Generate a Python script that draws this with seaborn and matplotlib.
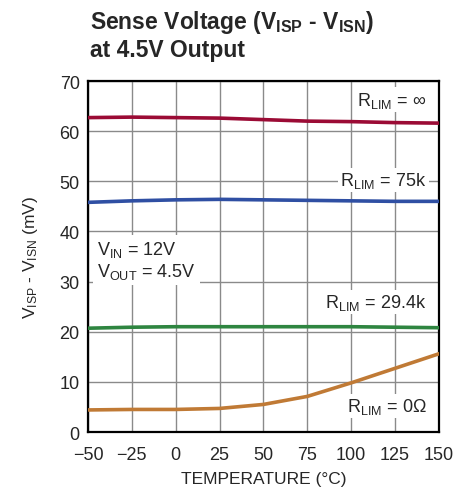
import matplotlib
matplotlib.use("Agg")
import matplotlib.pyplot as plt
import seaborn as sns
import pandas as pd

# data
temperature = [-50, -25, 0, 25, 50, 75, 100, 125, 150]
v_rlim_inf = [62.7, 62.8, 62.7, 62.6, 62.3, 62.0, 61.9, 61.7, 61.6]
v_rlim_75k = [45.8, 46.1, 46.3, 46.4, 46.3, 46.2, 46.1, 46.0, 46.0]
v_rlim_29k = [20.7, 20.9, 21.0, 21.0, 21.0, 21.0, 21.0, 20.9, 20.8]
v_rlim_0 = [4.4, 4.5, 4.5, 4.7, 5.5, 7.1, 9.8, 12.7, 15.6]

series = {
    "inf": (v_rlim_inf, "#9b0b35"),
    "75k": (v_rlim_75k, "#2f4fa3"),
    "29.4k": (v_rlim_29k, "#2e8540"),
    "0": (v_rlim_0, "#c07a35"),
}

sns.set_style("white")
plt.rcParams["font.family"] = ["Liberation Sans", "DejaVu Sans"]
plt.rcParams["mathtext.fontset"] = "custom"
plt.rcParams["mathtext.rm"] = "Liberation Sans"

fig = plt.figure(figsize=(4.71, 4.89), dpi=100)
ax = fig.add_axes([0.1868, 0.1145, 0.745, 0.7178])

for name, (vals, col) in series.items():
    df = pd.DataFrame({"t": temperature, "v": vals})
    sns.lineplot(data=df, x="t", y="v", color=col, linewidth=2.6, ax=ax, zorder=3)

ax.set_xlim(-50, 150)
ax.set_ylim(0, 70)
ax.set_xticks(range(-50, 151, 25))
ax.set_yticks(range(0, 71, 10))
ax.set_xticklabels(["\u221250", "\u221225", "0", "25", "50", "75", "100", "125", "150"])
ax.grid(True, color="#8a8a8a", linewidth=1.0)
ax.set_axisbelow(True)
for s in ax.spines.values():
    s.set_color("black")
    s.set_linewidth(1.6)
ax.tick_params(axis="x", labelsize=13, length=0, pad=10)
ax.tick_params(axis="y", labelsize=13, length=0, pad=6)

ax.set_xlabel("TEMPERATURE (\u00b0C)", fontsize=12.5, labelpad=6)
ax.set_ylabel("V$\\mathregular{_{ISP}}$ - V$\\mathregular{_{ISN}}$ (mV)", fontsize=12.5, labelpad=14)

box = dict(facecolor="white", edgecolor="none", pad=1.5)
lab_kw = dict(fontsize=13, ha="right", va="center", bbox=box, zorder=2.5)
ax.text(143, 66.3, "R$\\mathregular{_{LIM}}$ = \u221e", **lab_kw)
ax.text(143, 50.3, "R$\\mathregular{_{LIM}}$ = 75k", **lab_kw)
ax.text(143, 25.9, "R$\\mathregular{_{LIM}}$ = 29.4k", **lab_kw)
ax.text(143, 5.2, "R$\\mathregular{_{LIM}}$ = 0\u03a9", **lab_kw)
ax.text(-45, 34.3, "V$\\mathregular{_{IN}}$ = 12V\nV$\\mathregular{_{OUT}}$ = 4.5V",
        fontsize=13, ha="left", va="center", linespacing=1.1, zorder=2.5,
        bbox=dict(facecolor="white", edgecolor="none", pad=3))

fig.text(0.191, 0.982, "Sense Voltage (V$\\mathregular{_{ISP}}$ - V$\\mathregular{_{ISN}}$)\nat 4.5V Output",
         fontsize=16.5, fontweight="bold", ha="left", va="top", linespacing=1.15)

fig.savefig("out.png", dpi=100)
